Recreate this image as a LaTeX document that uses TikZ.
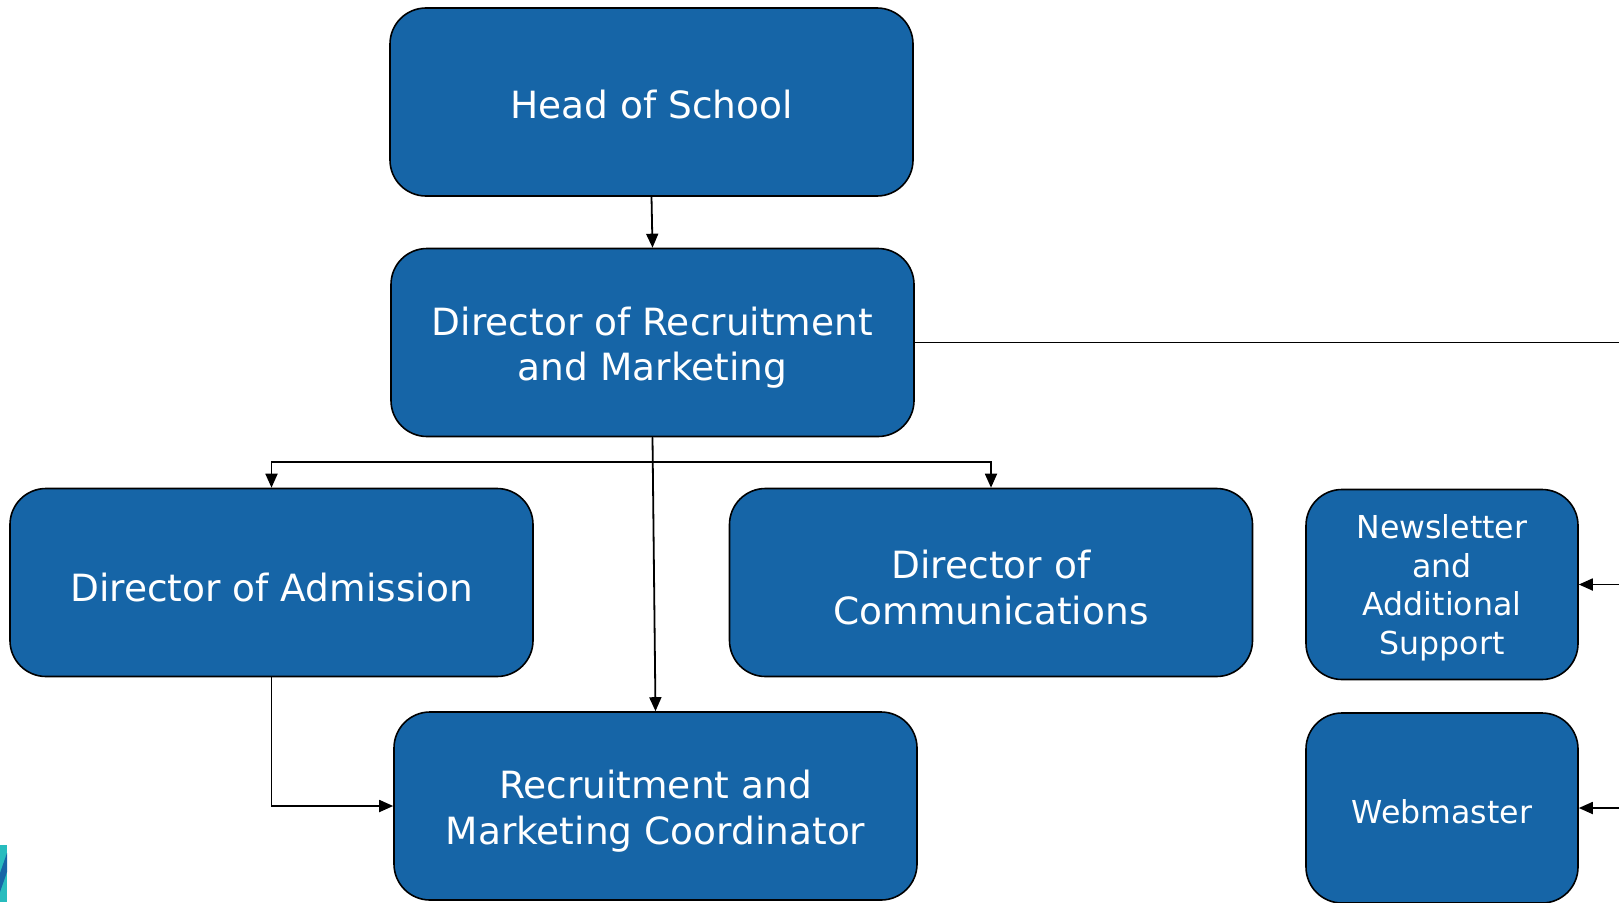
\documentclass[tikz,border=0pt]{standalone}
\usepackage{fontspec}
\setmainfont{DejaVu Sans}
\usetikzlibrary{arrows.meta}
\definecolor{boxblue}{RGB}{22,101,167}
\definecolor{logoteal}{RGB}{40,188,190}
% pushes the first line of a box down a little
\newcommand\biglift{\rule{0pt}{39pt}}
\newcommand\smalllift{\rule{0pt}{31pt}}

\begin{document}
\begin{tikzpicture}[x=1pt,y=-1pt,
    role/.style    = {draw=black, line width=1.6pt, fill=boxblue, text=white,
                      rounded corners=36pt, align=center, inner sep=0pt},
    bigrole/.style = {role, minimum width=523pt, minimum height=188pt,
                      font=\fontsize{37.5}{45.5}\selectfont},
    smallrole/.style = {role, minimum width=272pt, minimum height=190pt,
                      font=\fontsize{31.6}{38.5}\selectfont},
    link/.style    = {draw, line width=1.8pt, -{Triangle[length=14pt,width=12pt]}},
    plain/.style   = {draw, line width=1.8pt},
  ]
  \useasboundingbox (0,0) rectangle (1619,902);

  % corner of the logo, bottom left
  \fill[logoteal] (0,845) rectangle (7,902);
  \fill[boxblue] (7,853) -- (7,872) -- (0,892) -- (0,873) -- cycle;

  % boxes
  \node[bigrole](head) at (651.5,102) {\rule{0pt}{33pt}Head of School};
  \node[bigrole](drm) at (652.5,342.5) {\biglift Director of Recruitment\\and Marketing};
  \node[bigrole](adm) at (271.5,582.5) {\biglift Director of Admission};
  \node[bigrole](comm) at (991,582.5) {\biglift Director of\\Communications};
  \node[bigrole](rmc) at (655.5,806) {\biglift Recruitment and\\Marketing Coordinator};
  \node[smallrole](news) at (1442,584.5) {\smalllift Newsletter\\and\\Additional\\ Support};
  \node[smallrole](web) at (1442,808) {\smalllift Webmaster};

  % free ends
  \coordinate (bus) at (652.5,462);
  \coordinate (edge) at (1619,342.5);
  \coordinate (newsin) at (1619,584.5);
  \coordinate (webin) at (1619,808);

  % connectors
  \draw[link] (head.south) -- (drm.north);
  \draw[plain] (drm.south) -- (drm.south |- bus);
  \draw[link] (drm.south |- bus) -| (adm.north);
  \draw[link] (drm.south |- bus) -| (comm.north);
  \draw[link] (drm.south) -- (rmc.north);
  \draw[link] (adm.south) |- (rmc.west);
  \draw[plain] (drm.east) -- (edge);
  \draw[link] (newsin) -- (news.east);
  \draw[link] (webin) -- (web.east);
\end{tikzpicture}
\end{document}
